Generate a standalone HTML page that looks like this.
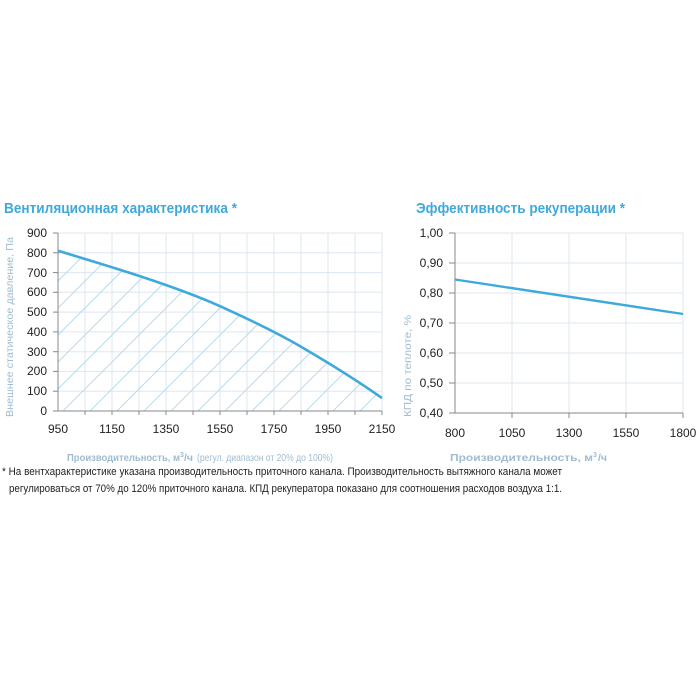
<!DOCTYPE html>
<html><head><meta charset="utf-8"><style>
html,body{margin:0;padding:0;background:#fff;}
svg{display:block;font-family:"Liberation Sans","DejaVu Sans",sans-serif;}
</style></head><body>
<svg width="700" height="700" viewBox="0 0 700 700" xmlns="http://www.w3.org/2000/svg">
<defs>
<clipPath id="under"><path d="M58,250.8 C85,259 112,267 139,275.9 S193,294 220,306.2 S274,331 301,346.7 S355,379 382,398.1 L382,411 L58,411 Z"/></clipPath>
</defs>
<text x="4" y="213" font-size="15" font-weight="bold" fill="#3fa9dc" textLength="233" lengthAdjust="spacingAndGlyphs">Вентиляционная характеристика *</text>
<g stroke="#dde7f0" stroke-width="1">
<line x1="58" y1="233" x2="382" y2="233"/><line x1="58" y1="252.8" x2="382" y2="252.8"/><line x1="58" y1="272.6" x2="382" y2="272.6"/><line x1="58" y1="292.3" x2="382" y2="292.3"/><line x1="58" y1="312.1" x2="382" y2="312.1"/><line x1="58" y1="331.9" x2="382" y2="331.9"/><line x1="58" y1="351.7" x2="382" y2="351.7"/><line x1="58" y1="371.4" x2="382" y2="371.4"/><line x1="58" y1="391.2" x2="382" y2="391.2"/>
<line x1="85" y1="233" x2="85" y2="411"/><line x1="112" y1="233" x2="112" y2="411"/><line x1="139" y1="233" x2="139" y2="411"/><line x1="166" y1="233" x2="166" y2="411"/><line x1="193" y1="233" x2="193" y2="411"/><line x1="220" y1="233" x2="220" y2="411"/><line x1="247" y1="233" x2="247" y2="411"/><line x1="274" y1="233" x2="274" y2="411"/><line x1="301" y1="233" x2="301" y2="411"/><line x1="328" y1="233" x2="328" y2="411"/><line x1="355" y1="233" x2="355" y2="411"/><line x1="382" y1="233" x2="382" y2="411"/>
</g>
<g clip-path="url(#under)" stroke="#b9dbeb" stroke-width="1">
<line x1="-99" y1="411" x2="79" y2="233"/><line x1="-72" y1="411" x2="106" y2="233"/><line x1="-45" y1="411" x2="133" y2="233"/><line x1="-18" y1="411" x2="160" y2="233"/><line x1="9" y1="411" x2="187" y2="233"/><line x1="36" y1="411" x2="214" y2="233"/><line x1="63" y1="411" x2="241" y2="233"/><line x1="90" y1="411" x2="268" y2="233"/><line x1="117" y1="411" x2="295" y2="233"/><line x1="144" y1="411" x2="322" y2="233"/><line x1="171" y1="411" x2="349" y2="233"/><line x1="198" y1="411" x2="376" y2="233"/><line x1="225" y1="411" x2="403" y2="233"/><line x1="252" y1="411" x2="430" y2="233"/><line x1="279" y1="411" x2="457" y2="233"/><line x1="306" y1="411" x2="484" y2="233"/><line x1="333" y1="411" x2="511" y2="233"/><line x1="360" y1="411" x2="538" y2="233"/>
</g>
<g stroke="#888" stroke-width="1">
<line x1="58" y1="233" x2="58" y2="411"/><line x1="58" y1="411" x2="382" y2="411"/>
<line x1="53" y1="233" x2="58" y2="233"/><line x1="53" y1="252.8" x2="58" y2="252.8"/><line x1="53" y1="272.6" x2="58" y2="272.6"/><line x1="53" y1="292.3" x2="58" y2="292.3"/><line x1="53" y1="312.1" x2="58" y2="312.1"/><line x1="53" y1="331.9" x2="58" y2="331.9"/><line x1="53" y1="351.7" x2="58" y2="351.7"/><line x1="53" y1="371.4" x2="58" y2="371.4"/><line x1="53" y1="391.2" x2="58" y2="391.2"/><line x1="53" y1="411" x2="58" y2="411"/>
<line x1="85" y1="411" x2="85" y2="415"/><line x1="112" y1="411" x2="112" y2="415"/><line x1="139" y1="411" x2="139" y2="415"/><line x1="166" y1="411" x2="166" y2="415"/><line x1="193" y1="411" x2="193" y2="415"/><line x1="220" y1="411" x2="220" y2="415"/><line x1="247" y1="411" x2="247" y2="415"/><line x1="274" y1="411" x2="274" y2="415"/><line x1="301" y1="411" x2="301" y2="415"/><line x1="328" y1="411" x2="328" y2="415"/><line x1="355" y1="411" x2="355" y2="415"/><line x1="382" y1="411" x2="382" y2="415"/>
</g>
<path d="M58,250.8 C85,259 112,267 139,275.9 S193,294 220,306.2 S274,331 301,346.7 S355,379 382,398.1" fill="none" stroke="#3fa9dc" stroke-width="2.6" stroke-linejoin="round"/>
<g font-size="12" fill="#222" text-anchor="end">
<text x="47" y="237">900</text><text x="47" y="257">800</text><text x="47" y="277">700</text><text x="47" y="296">600</text><text x="47" y="316">500</text><text x="47" y="336">400</text><text x="47" y="356">300</text><text x="47" y="375">200</text><text x="47" y="395">100</text><text x="47" y="415">0</text>
</g>
<g font-size="12" fill="#222" text-anchor="middle">
<text x="58" y="433">950</text><text x="112" y="433">1150</text><text x="166" y="433">1350</text><text x="220" y="433">1550</text><text x="274" y="433">1750</text><text x="328" y="433">1950</text><text x="382" y="433">2150</text>
</g>
<text transform="translate(13,327) rotate(-90)" font-size="10.5" fill="#9fbcd0" text-anchor="middle" textLength="180" lengthAdjust="spacingAndGlyphs">Внешнее статическое давление, Па</text>
<text x="67" y="461" font-size="10.5" font-weight="bold" fill="#9fbcd0" textLength="113" lengthAdjust="spacingAndGlyphs">Производительность, м</text>
<text x="180" y="457" font-size="7" font-weight="bold" fill="#9fbcd0">3</text>
<text x="184" y="461" font-size="10.5" font-weight="bold" fill="#9fbcd0">/ч</text>
<text x="197" y="461" font-size="10.5" fill="#9fbcd0" textLength="136" lengthAdjust="spacingAndGlyphs">(регул. диапазон от 20% до 100%)</text>

<text x="416" y="213" font-size="15" font-weight="bold" fill="#3fa9dc" textLength="209" lengthAdjust="spacingAndGlyphs">Эффективность рекуперации *</text>
<g stroke="#dde7f0" stroke-width="1">
<line x1="455" y1="233" x2="683" y2="233"/><line x1="455" y1="263" x2="683" y2="263"/><line x1="455" y1="293" x2="683" y2="293"/><line x1="455" y1="323" x2="683" y2="323"/><line x1="455" y1="353" x2="683" y2="353"/><line x1="455" y1="383" x2="683" y2="383"/>
<line x1="512" y1="233" x2="512" y2="413"/><line x1="569" y1="233" x2="569" y2="413"/><line x1="626" y1="233" x2="626" y2="413"/><line x1="683" y1="233" x2="683" y2="413"/>
</g>
<g stroke="#888" stroke-width="1">
<line x1="455" y1="233" x2="455" y2="413"/><line x1="455" y1="413" x2="683" y2="413"/>
<line x1="449" y1="233" x2="455" y2="233"/><line x1="449" y1="263" x2="455" y2="263"/><line x1="449" y1="293" x2="455" y2="293"/><line x1="449" y1="323" x2="455" y2="323"/><line x1="449" y1="353" x2="455" y2="353"/><line x1="449" y1="383" x2="455" y2="383"/><line x1="449" y1="413" x2="455" y2="413"/>
<line x1="512" y1="413" x2="512" y2="418"/><line x1="569" y1="413" x2="569" y2="418"/><line x1="626" y1="413" x2="626" y2="418"/><line x1="683" y1="413" x2="683" y2="418"/>
</g>
<line x1="455" y1="279.5" x2="683" y2="314" stroke="#3fa9dc" stroke-width="2.4"/>
<g font-size="12" fill="#222" text-anchor="end">
<text x="443" y="237">1,00</text><text x="443" y="267">0,90</text><text x="443" y="297">0,80</text><text x="443" y="327">0,70</text><text x="443" y="357">0,60</text><text x="443" y="387">0,50</text><text x="443" y="417">0,40</text>
</g>
<g font-size="12" fill="#222" text-anchor="middle">
<text x="455" y="437">800</text><text x="512" y="437">1050</text><text x="569" y="437">1300</text><text x="626" y="437">1550</text><text x="683" y="437">1800</text>
</g>
<text transform="translate(411,366) rotate(-90)" font-size="10.5" fill="#9fbcd0" text-anchor="middle" textLength="102" lengthAdjust="spacingAndGlyphs">КПД по теплоте, %</text>
<text x="450" y="461" font-size="10.5" font-weight="bold" fill="#9fbcd0" textLength="143" lengthAdjust="spacingAndGlyphs">Производительность, м</text>
<text x="593" y="457" font-size="7" font-weight="bold" fill="#9fbcd0">3</text>
<text x="598" y="461" font-size="10.5" font-weight="bold" fill="#9fbcd0">/ч</text>

<text x="2" y="475" font-size="11" fill="#222" textLength="560" lengthAdjust="spacingAndGlyphs">* На вентхарактеристике указана производительность приточного канала. Производительность вытяжного канала может</text>
<text x="9" y="492" font-size="11" fill="#222" textLength="553" lengthAdjust="spacingAndGlyphs">регулироваться от 70% до 120% приточного канала. КПД рекуператора показано для соотношения расходов воздуха 1:1.</text>
</svg>
</body></html>
